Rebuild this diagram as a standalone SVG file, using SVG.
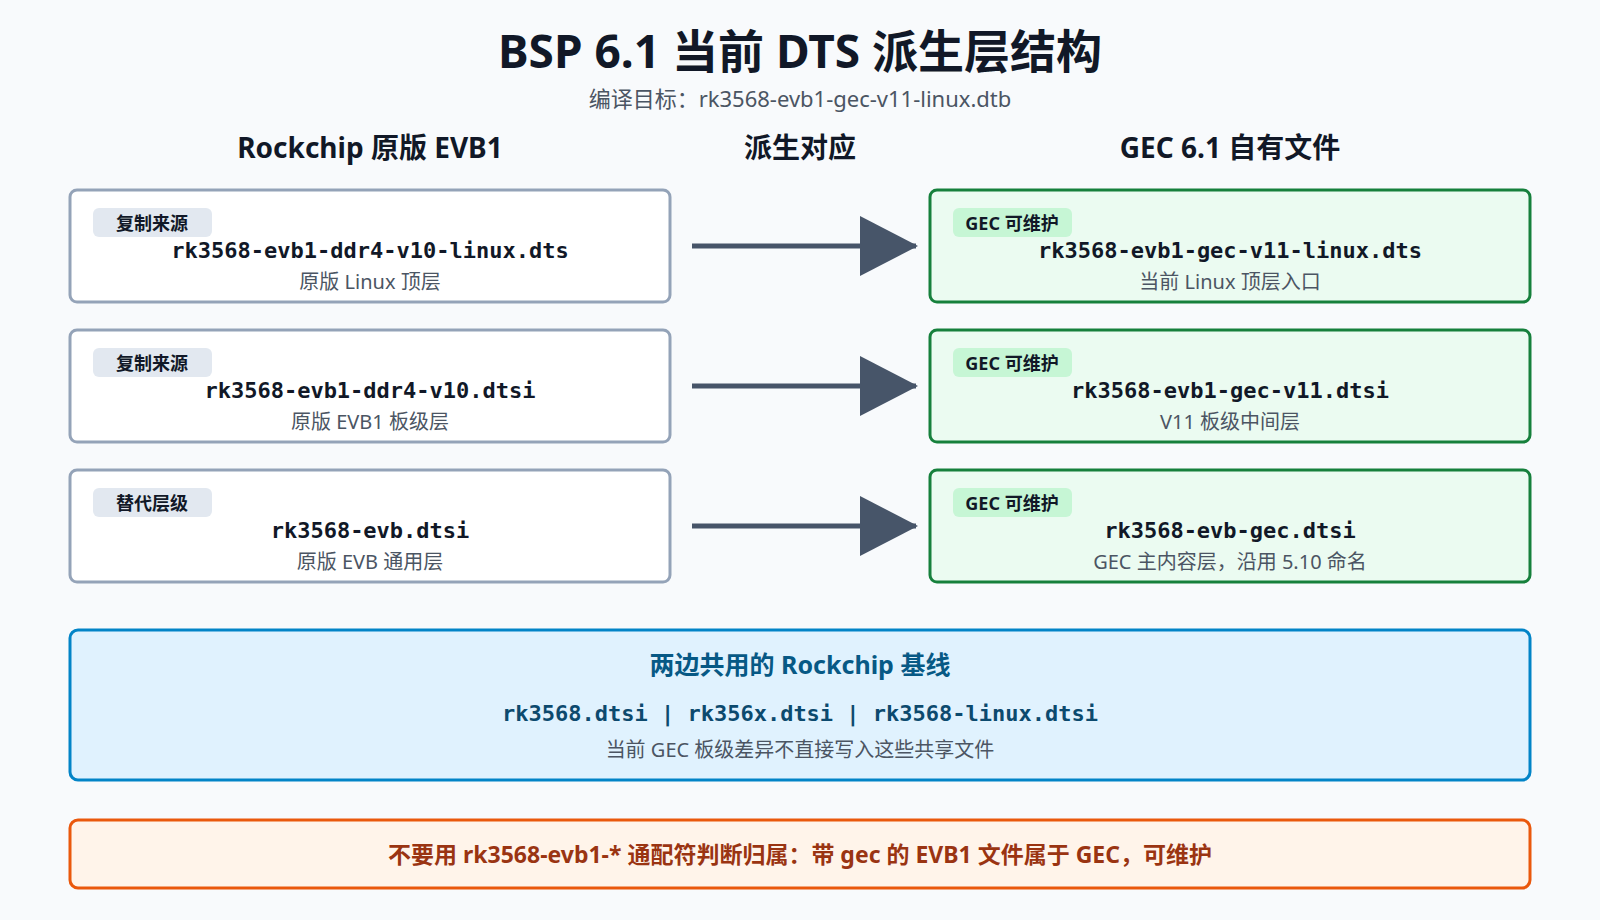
<svg xmlns="http://www.w3.org/2000/svg" width="1600" height="920" viewBox="0 0 1600 920">
<style>
.sans{font-family:"Noto Sans","Noto Sans CJK SC",sans-serif}
.mono{font-family:"DejaVu Sans Mono","Liberation Mono",monospace;font-weight:bold;font-size:22px;fill:#111827}
.sub{font-family:"Noto Sans","Noto Sans CJK SC",sans-serif;font-size:20px;fill:#4b5563}
.hdr{font-family:"Noto Sans","Noto Sans CJK SC",sans-serif;font-size:28px;font-weight:bold;fill:#111827}
.lbox{fill:#fff;stroke:#94a3b8;stroke-width:3}
.rbox{fill:#ebfbf1;stroke:#16803c;stroke-width:3}
.lbadge{fill:#e2e8f0}
.rbadge{fill:#c6f6d5}
.badge{font-family:"Noto Sans","Noto Sans CJK SC",sans-serif;font-size:18px;font-weight:bold;fill:#111827}
.conn{stroke:#475569;stroke-width:5}
</style>
<defs><marker id="ah" markerUnits="userSpaceOnUse" markerWidth="60" markerHeight="60" refX="56" refY="30" orient="auto"><path d="M0,0 L58,30 L0,60 Z" fill="#475569"/></marker></defs>
<rect width="1600" height="920" fill="#f8fafc"/>
<text x="800" y="68" text-anchor="middle" class="sans" font-size="46" font-weight="bold" fill="#111827">BSP 6.1 当前 DTS 派生层结构</text>
<text x="800" y="107" text-anchor="middle" class="sans" font-size="22" fill="#4b5563">编译目标：rk3568-evb1-gec-v11-linux.dtb</text>
<text x="370" y="158" text-anchor="middle" class="hdr">Rockchip 原版 EVB1</text>
<text x="800" y="158" text-anchor="middle" class="hdr">派生对应</text>
<text x="1230" y="158" text-anchor="middle" class="hdr">GEC 6.1 自有文件</text>
<g id="l1"><rect x="70" y="190" width="600" height="112" rx="7" class="lbox"/><rect x="93" y="208" width="119" height="29" rx="6" class="lbadge"/><text x="152" y="230" text-anchor="middle" class="badge">复制来源</text><text x="370" y="258" text-anchor="middle" class="mono">rk3568-evb1-ddr4-v10-linux.dts</text><text x="370" y="289" text-anchor="middle" class="sub">原版 Linux 顶层</text></g>
<g id="l2"><rect x="70" y="330" width="600" height="112" rx="7" class="lbox"/><rect x="93" y="348" width="119" height="29" rx="6" class="lbadge"/><text x="152" y="370" text-anchor="middle" class="badge">复制来源</text><text x="370" y="398" text-anchor="middle" class="mono">rk3568-evb1-ddr4-v10.dtsi</text><text x="370" y="429" text-anchor="middle" class="sub">原版 EVB1 板级层</text></g>
<g id="l3"><rect x="70" y="470" width="600" height="112" rx="7" class="lbox"/><rect x="93" y="488" width="119" height="29" rx="6" class="lbadge"/><text x="152" y="510" text-anchor="middle" class="badge">替代层级</text><text x="370" y="538" text-anchor="middle" class="mono">rk3568-evb.dtsi</text><text x="370" y="569" text-anchor="middle" class="sub">原版 EVB 通用层</text></g>
<g id="r1"><rect x="930" y="190" width="600" height="112" rx="7" class="rbox"/><rect x="953" y="208" width="119" height="29" rx="6" class="rbadge"/><text x="1012" y="230" text-anchor="middle" class="badge">GEC 可维护</text><text x="1230" y="258" text-anchor="middle" class="mono">rk3568-evb1-gec-v11-linux.dts</text><text x="1230" y="289" text-anchor="middle" class="sub">当前 Linux 顶层入口</text></g>
<g id="r2"><rect x="930" y="330" width="600" height="112" rx="7" class="rbox"/><rect x="953" y="348" width="119" height="29" rx="6" class="rbadge"/><text x="1012" y="370" text-anchor="middle" class="badge">GEC 可维护</text><text x="1230" y="398" text-anchor="middle" class="mono">rk3568-evb1-gec-v11.dtsi</text><text x="1230" y="429" text-anchor="middle" class="sub">V11 板级中间层</text></g>
<g id="r3"><rect x="930" y="470" width="600" height="112" rx="7" class="rbox"/><rect x="953" y="488" width="119" height="29" rx="6" class="rbadge"/><text x="1012" y="510" text-anchor="middle" class="badge">GEC 可维护</text><text x="1230" y="538" text-anchor="middle" class="mono">rk3568-evb-gec.dtsi</text><text x="1230" y="569" text-anchor="middle" class="sub">GEC 主内容层，沿用 5.10 命名</text></g>
<g id="connectors">
<line x1="692" y1="246" x2="916" y2="246" class="conn" marker-end="url(#ah)"/>
<line x1="692" y1="386" x2="916" y2="386" class="conn" marker-end="url(#ah)"/>
<line x1="692" y1="526" x2="916" y2="526" class="conn" marker-end="url(#ah)"/>
</g>
<g id="base"><rect x="70" y="630" width="1460" height="150" rx="8" fill="#e0f2fe" stroke="#0284c7" stroke-width="3"/>
<text x="800" y="674" text-anchor="middle" class="sans" font-size="25" font-weight="bold" fill="#075985">两边共用的 Rockchip 基线</text>
<text x="800" y="721" text-anchor="middle" class="mono" fill="#0c4a6e" style="fill:#0c4a6e">rk3568.dtsi | rk356x.dtsi | rk3568-linux.dtsi</text>
<text x="800" y="757" text-anchor="middle" class="sub">当前 GEC 板级差异不直接写入这些共享文件</text></g>
<g id="warn"><rect x="70" y="820" width="1460" height="68" rx="8" fill="#fff4ea" stroke="#ea580c" stroke-width="3"/>
<text x="800" y="863" text-anchor="middle" class="sans" font-size="23" font-weight="bold" fill="#9a3412">不要用 rk3568-evb1-* 通配符判断归属：带 gec 的 EVB1 文件属于 GEC，可维护</text></g>
</svg>
